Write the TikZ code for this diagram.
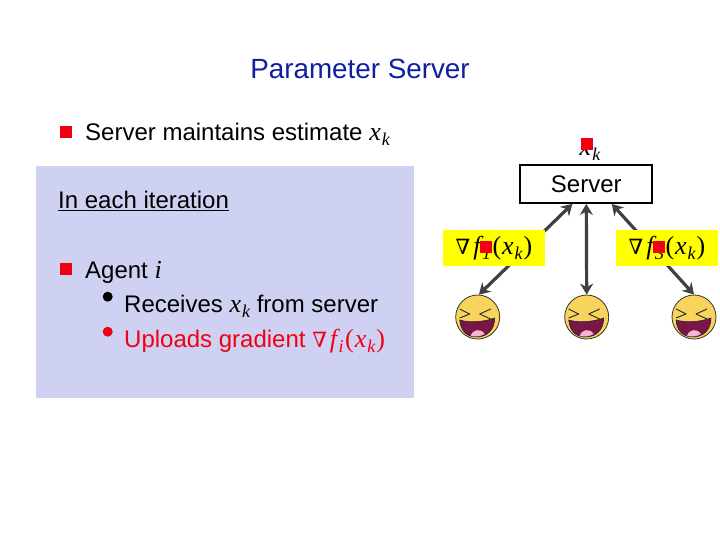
\RequirePackage{fix-cm}
\documentclass[tikz,border=0pt]{standalone}
\usepackage{fontspec}
\setmainfont{Liberation Sans}
\newfontfamily\mathfam{Liberation Serif}
\newfontfamily\nablafam{DejaVu Serif}
\newcommand{\mvar}[1]{{\fontsize{26}{28}\selectfont\mathfam\itshape #1}}
\newcommand{\mpar}[1]{{\fontsize{26}{28}\selectfont\mathfam #1}}
\newcommand{\msub}[1]{\raisebox{-5pt}{\fontsize{18}{20}\selectfont\mathfam\itshape #1}}
\newcommand{\mxk}{\mvar{x}\kern1pt\msub{k}}
\newcommand{\mnab}{{\nablafam\fontsize{21}{24}\selectfont\itshape\char"2207}\kern3pt}
\newcommand{\mgrad}[1]{\mnab\mvar{f}\kern1.5pt\msub{#1}\kern1.5pt\mpar{(}\kern1pt\mxk\kern1pt\mpar{)}}
\usetikzlibrary{arrows.meta}
\definecolor{panelblue}{HTML}{CFD1F3}
\definecolor{titleblue}{HTML}{0F1FA0}
\definecolor{arrowgray}{HTML}{404040}
\definecolor{bulletred}{HTML}{F00010}
\definecolor{hiyellow}{HTML}{FFFF00}
\definecolor{faceyellow}{HTML}{F8D45C}
\definecolor{mouthpurple}{HTML}{7A1548}
\definecolor{tonguepink}{HTML}{F4B6D2}
\tikzset{
  x=1pt,y=-1pt,
  txt/.style={anchor=base west,inner sep=0pt,font=\fontsize{24}{28}\selectfont},
  sq/.style={draw=none,fill=bulletred,minimum size=12pt,inner sep=0pt},
  dot/.style={circle,draw=none,inner sep=0pt,minimum size=10pt},
  hibox/.style={draw=none,fill=hiyellow,minimum width=102pt,minimum height=36pt,inner sep=0pt,font=\fontsize{24}{28}\selectfont},
  facenode/.style={circle,draw=black!80,line width=0.8pt,fill=faceyellow,minimum size=44pt,inner sep=0pt},
  link/.style={draw=arrowgray,line width=3.2pt,{Stealth[length=11pt,width=13pt]}-{Stealth[length=11pt,width=13pt]}},
  laugh/.pic={
    \draw[black!85,line width=0.9pt,line join=round] (-18,-8)--(-8,-3)--(-18,1);
    \draw[black!85,line width=0.9pt,line join=round] (13,-8)--(2,-3)--(13,2);
    \fill[mouthpurple,draw=black!85,line width=0.6pt] (-18,3) .. controls (-8,6) and (6,5) .. (17,1) .. controls (17,13) and (9,20) .. (-1,20) .. controls (-11,20) and (-17,14) .. (-18,3) -- cycle;
    \fill[tonguepink] (-7,19) .. controls (-5,12) and (3,11) .. (7,17) .. controls (3,19.5) and (-3,20) .. (-7,19) -- cycle;
  }
}
\begin{document}
\begin{tikzpicture}
\useasboundingbox (0,0) rectangle (720,540);
\fill[white] (0,0) rectangle (720,540);
\node[anchor=base,inner sep=0pt,text=titleblue,font=\fontsize{27.8}{32}\selectfont] (title) at (360,79) {Parameter Server};
\node[draw=none,fill=panelblue,minimum width=378pt,minimum height=232pt,inner sep=0pt] (panel) at (225,282) {};
\node[sq] (b1) at (65.5,132) {};
\node[txt] (t1) at (85,141) {Server maintains estimate \mxk};
\node[txt] (t2) at (58,209) {\underline{In each iteration}};
\node[sq] (b2) at (66,269) {};
\node[txt] (t3) at (85,278) {Agent \mvar{i}};
\node[dot,fill=black] (d1) at (107.7,296.7) {};
\node[txt] (t4) at (124,312) {Receives \mxk{} from server};
\node[dot,fill=bulletred] (d2) at (107.7,331.7) {};
\node[txt,text=bulletred] (t5) at (124,347) {Uploads gradient \mgrad{i}};
% server
\node[draw=black,line width=1.8pt,fill=white,minimum width=132pt,minimum height=38pt,inner sep=0pt,font=\fontsize{24}{28}\selectfont] (srv) at (586.3,184) {Server};
\node[anchor=base,inner sep=0pt,font=\fontsize{24}{28}\selectfont] (xk) at (590,156) {\mxk};
\node[sq] (bx) at (587,144) {};
% faces
\node[facenode] (a1) at (477.7,317) {};
\node[facenode] (a2) at (586.7,317) {};
\node[facenode] (a3) at (694,317) {};
\pic at (a1) {laugh};
\pic at (a2) {laugh};
\pic at (a3) {laugh};
% links
\draw[link] (srv.-125.6) -- (a1.87);
\draw[link] (srv.south) -- (a2.north);
\draw[link] (srv.-38.7) -- (a3.north);
% gradient labels
\node[hibox] (g1) at (494,248) {\mgrad{1}\hspace{6pt}};
\node[hibox] (g3) at (667,248) {\mgrad{3}\hspace{6pt}};
\node[sq] (s1) at (486,247) {};
\node[sq] (s3) at (659,247) {};
\end{tikzpicture}
\end{document}
